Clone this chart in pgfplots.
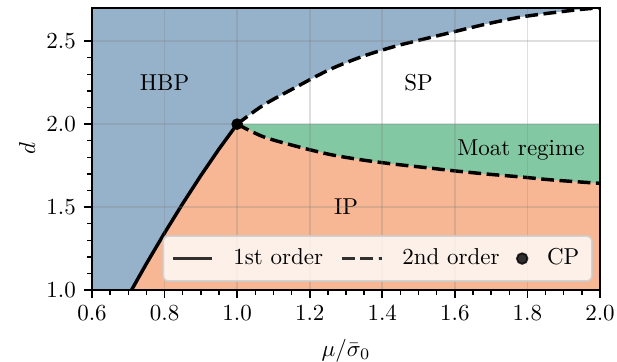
\documentclass[border=0pt]{standalone}
\usepackage{pgfplots}
\pgfplotsset{compat=1.18}
\definecolor{hbp}{RGB}{150,177,202}
\definecolor{ip}{RGB}{248,183,148}
\definecolor{moat}{RGB}{130,200,162}
\begin{document}
\begin{tikzpicture}
\useasboundingbox (-40pt,-31.3pt) rectangle (228.26pt,126.09pt);
\begin{axis}[
  at={(0,0)}, anchor=south west,
  scale only axis, width=220.87pt, height=122.6pt,
  xmin=0.6, xmax=2.0, ymin=1.0, ymax=2.7,
  xtick={0.6,0.8,...,2.01}, ytick={1.0,1.5,2.0,2.5},
  minor x tick num=3, minor y tick num=4,
  xticklabel style={/pgf/number format/.cd,fixed,fixed zerofill,precision=1},
  yticklabel style={/pgf/number format/.cd,fixed,fixed zerofill,precision=1},
  tick align=outside, tick pos=left,
  major tick length=3.5pt, minor tick length=2pt,
  every tick/.style={black, line width=0.8pt},
  minor tick style={line width=0.6pt},
  axis line style={line width=0.8pt},
  grid=major, grid style={gray, opacity=0.25, line width=0.8pt},
  axis on top,
  xlabel={$\mu/\bar{\sigma}_0$}, ylabel={$d$},
  xlabel style={yshift=-1pt}, ylabel style={yshift=-2pt},
  legend columns=3,
  legend style={at={(0.986,0.0285)}, anchor=south east,
    draw=gray!40, line width=0.8pt, fill=white, fill opacity=0.8, text opacity=1,
    draw opacity=0.8, rounded corners=2pt, inner xsep=3.5pt, inner ysep=3.5pt,
    nodes={inner sep=2pt},
    /tikz/every odd column/.append style={column sep=6.5pt},
    /tikz/every even column/.append style={column sep=5.5pt}},
  legend image code/.code={\draw[mark repeat=2,mark phase=2,#1] plot coordinates {(0pt,0pt) (8.5pt,0pt) (17pt,0pt)};},
]
% HBP background
\addplot[draw=none, fill=hbp, forget plot] coordinates {(0.6,1.0) (0.6,2.7) (2.0,2.7) (2.0,1.0)} -- cycle;
% SP region (white)
\addplot[draw=none, fill=white, forget plot] coordinates {
 (1.0,2.0) (1.072,2.114) (1.164,2.225) (1.256,2.330) (1.348,2.410) (1.440,2.472)
 (1.532,2.522) (1.596,2.556) (1.688,2.604) (1.780,2.645) (1.871,2.672) (1.954,2.693) (2.05,2.71)
 (2.05,2.0)} -- cycle;
% Moat region
\addplot[draw=none, fill=moat, forget plot] coordinates {
 (1.0,2.0) (1.072,1.924) (1.164,1.866) (1.256,1.817) (1.348,1.783) (1.440,1.757)
 (1.532,1.735) (1.596,1.719) (1.688,1.699) (1.780,1.682) (1.871,1.663) (2.0,1.643)
 (2.0,2.0)} -- cycle;
% IP region
\addplot[draw=none, fill=ip, forget plot] coordinates {
 (0.709,1.0) (0.75,1.159) (0.80,1.344) (0.85,1.521) (0.90,1.690) (0.95,1.850) (1.0,2.0)
 (1.072,1.924) (1.164,1.866) (1.256,1.817) (1.348,1.783) (1.440,1.757)
 (1.532,1.735) (1.596,1.719) (1.688,1.699) (1.780,1.682) (1.871,1.663) (2.0,1.643)
 (2.0,1.0)} -- cycle;
% first order line
\addplot[black, line width=1.5pt] coordinates {
 (0.709,1.0) (0.75,1.159) (0.80,1.344) (0.85,1.521) (0.90,1.690) (0.95,1.850) (1.0,2.0)};
\addlegendentry{1st order}
% second order lines
\addplot[black, line width=1.5pt, dash pattern=on 5.55pt off 2.4pt, smooth] coordinates {
 (1.0,2.0) (1.072,2.114) (1.164,2.225) (1.256,2.330) (1.348,2.410) (1.440,2.472)
 (1.532,2.522) (1.596,2.556) (1.688,2.604) (1.780,2.645) (1.871,2.672) (1.954,2.693) (2.05,2.71)};
\addlegendentry{2nd order}
\addplot[black, line width=1.5pt, dash pattern=on 5.55pt off 2.4pt, smooth, forget plot] coordinates {
 (1.0,2.0) (1.072,1.924) (1.164,1.866) (1.256,1.817) (1.348,1.783) (1.440,1.757)
 (1.532,1.735) (1.596,1.719) (1.688,1.699) (1.780,1.682) (1.871,1.663) (2.0,1.643)};
% CP
\addplot[only marks, mark=*, mark size=2.3pt, black] coordinates {(1.0,2.0)};
\addlegendentry{CP}
\node at (axis cs:0.8,2.25) {HBP};
\node at (axis cs:1.5,2.25) {SP};
\node at (axis cs:1.782,1.843) {Moat regime};
\node at (axis cs:1.30,1.50) {IP};
\end{axis}
\end{tikzpicture}
\end{document}
